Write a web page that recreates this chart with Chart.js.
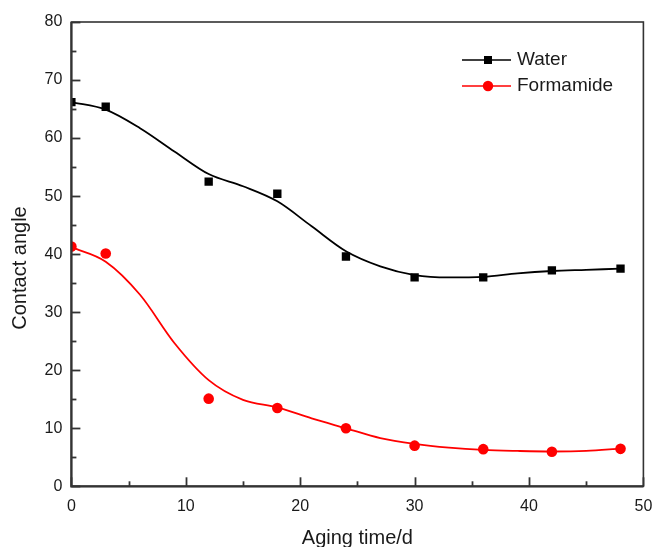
<!DOCTYPE html>
<html>
<head>
<meta charset="utf-8">
<script src="https://cdn.jsdelivr.net/npm/chart.js@4/dist/chart.umd.min.js"></script>
<style>
  html, body { margin: 0; padding: 0; background: #fff; }
  #wrap { width: 654px; height: 547px; position: relative; }
</style>
</head>
<body>
<div id="wrap"><canvas id="c" width="654" height="547"></canvas></div>
<script>
// ---- data ----
const days = [0, 3, 12, 18, 24, 30, 36, 42, 48];
const waterAngle = [66.2, 65.4, 52.5, 50.4, 39.6, 36.0, 36.0, 37.2, 37.5];
const formamideAngle = [41.3, 40.1, 15.1, 13.5, 10.0, 7.0, 6.4, 5.95, 6.45];

// fitted smooth curves
const fitDays = [0, 3, 6, 9, 12, 15, 18, 21, 24, 27, 30, 33, 36, 39, 42, 45, 48];
const waterFit = [66.2, 64.9, 61.7, 57.7, 53.8, 51.7, 49.1, 44.8, 40.5, 37.9, 36.4, 36.0, 36.1, 36.7, 37.1, 37.3, 37.5];
const formamideFit = [41.2, 38.7, 33.0, 24.7, 18.3, 14.9, 13.6, 11.7, 10.0, 8.3, 7.3, 6.65, 6.26, 6.09, 6.0, 6.1, 6.5];

const seriesNames = ['Water', 'Formamide'];
const xTitle = 'Aging time/d';
const yTitle = 'Contact angle';
const xRange = [0, 50];
const yRange = [0, 80];

const pts = (xs, ys) => xs.map((x, i) => ({ x: x, y: ys[i] }));

const FONT = "'Liberation Sans', Arial, sans-serif";
const AXIS = '#333';
const TEXT = '#1a1a1a';

// inward tick marks + frame
const framePlugin = {
  id: 'frame',
  afterDraw(chart) {
    const { ctx, chartArea: a, scales } = chart;
    const xs = scales.x, ys = scales.y;
    ctx.save();
    ctx.strokeStyle = AXIS;
    ctx.lineCap = 'butt';
    // ticks
    ctx.lineWidth = 1.8;
    for (let v = xRange[0]; v <= xRange[1]; v += 5) {
      const len = (v % 10 === 0) ? 9 : 5;
      const px = Math.round(xs.getPixelForValue(v)) + 0.5;
      ctx.beginPath(); ctx.moveTo(px, a.bottom); ctx.lineTo(px, a.bottom - len); ctx.stroke();
    }
    for (let v = yRange[0]; v <= yRange[1]; v += 5) {
      const len = (v % 10 === 0) ? 9 : 5;
      const py = Math.round(ys.getPixelForValue(v)) + 0.5;
      ctx.beginPath(); ctx.moveTo(a.left, py); ctx.lineTo(a.left + len, py); ctx.stroke();
    }
    // frame
    ctx.lineWidth = 1.6;
    ctx.strokeRect(a.left, a.top, a.right - a.left, a.bottom - a.top);
    ctx.lineWidth = 2.2;
    ctx.beginPath();
    ctx.moveTo(a.left, a.top); ctx.lineTo(a.left, a.bottom); ctx.lineTo(a.right, a.bottom);
    ctx.stroke();

    // y-axis title
    ctx.fillStyle = TEXT;
    ctx.font = '20px ' + FONT;
    ctx.textAlign = 'center';
    ctx.textBaseline = 'middle';
    ctx.translate(20, 268);
    ctx.rotate(-Math.PI / 2);
    ctx.fillText(yTitle, 0, 0);
    ctx.restore();

    // legend
    ctx.save();
    const items = [
      { name: seriesNames[0], color: '#000', style: 'rect', y: 60 },
      { name: seriesNames[1], color: '#ff0000', style: 'circle', y: 86 }
    ];
    items.forEach(it => {
      ctx.strokeStyle = it.color;
      ctx.fillStyle = it.color;
      ctx.lineWidth = 1.6;
      ctx.beginPath(); ctx.moveTo(462, it.y); ctx.lineTo(511, it.y); ctx.stroke();
      if (it.style === 'rect') {
        ctx.fillRect(488 - 4, it.y - 4, 8, 8);
      } else {
        ctx.beginPath(); ctx.arc(488, it.y, 5.2, 0, Math.PI * 2); ctx.fill();
      }
      ctx.fillStyle = TEXT;
      ctx.font = '19px ' + FONT;
      ctx.textAlign = 'left';
      ctx.textBaseline = 'middle';
      ctx.fillText(it.name, 517, it.y);
    });
    ctx.restore();
  }
};

new Chart(document.getElementById('c'), {
  type: 'scatter',
  data: {
    datasets: [
      {
        label: seriesNames[0] + ' fit',
        data: pts(fitDays, waterFit),
        showLine: true,
        borderColor: '#000',
        borderWidth: 1.8,
        pointRadius: 0,
        cubicInterpolationMode: 'monotone',
        fill: false
      },
      {
        label: seriesNames[1] + ' fit',
        data: pts(fitDays, formamideFit),
        showLine: true,
        borderColor: '#ff0000',
        borderWidth: 1.8,
        pointRadius: 0,
        cubicInterpolationMode: 'monotone',
        fill: false
      },
      {
        label: seriesNames[0],
        data: pts(days, waterAngle),
        showLine: false,
        pointStyle: 'rect',
        pointRadius: 5.9,
        backgroundColor: '#000',
        borderColor: '#000',
        borderWidth: 0
      },
      {
        label: seriesNames[1],
        data: pts(days, formamideAngle),
        showLine: false,
        pointStyle: 'circle',
        pointRadius: 5.3,
        backgroundColor: '#ff0000',
        borderColor: '#ff0000',
        borderWidth: 0
      }
    ]
  },
  options: {
    responsive: false,
    animation: false,
    layout: { padding: { top: 22, right: 10.6, left: 0, bottom: 0 } },
    plugins: {
      legend: { display: false },
      tooltip: { enabled: false }
    },
    scales: {
      x: {
        type: 'linear',
        min: xRange[0], max: xRange[1],
        afterFit(s) { s.height = 60.7; s.paddingLeft = 0; s.paddingRight = 0; },
        grid: { display: false, drawTicks: false },
        border: { display: false },
        ticks: { stepSize: 10, padding: 11, color: TEXT, font: { family: FONT, size: 16 } },
        title: {
          display: true, text: xTitle, color: TEXT,
          font: { family: FONT, size: 20, lineHeight: 1.2 },
          padding: { top: 0, bottom: -3 }
        }
      },
      y: {
        type: 'linear',
        min: yRange[0], max: yRange[1],
        afterFit(s) { s.width = 71.4; s.paddingTop = 0; s.paddingBottom = 0; },
        grid: { display: false, drawTicks: false },
        border: { display: false },
        ticks: { stepSize: 10, padding: 9, color: TEXT, font: { family: FONT, size: 16 } }
      }
    }
  },
  plugins: [framePlugin]
});
</script>
</body>
</html>
